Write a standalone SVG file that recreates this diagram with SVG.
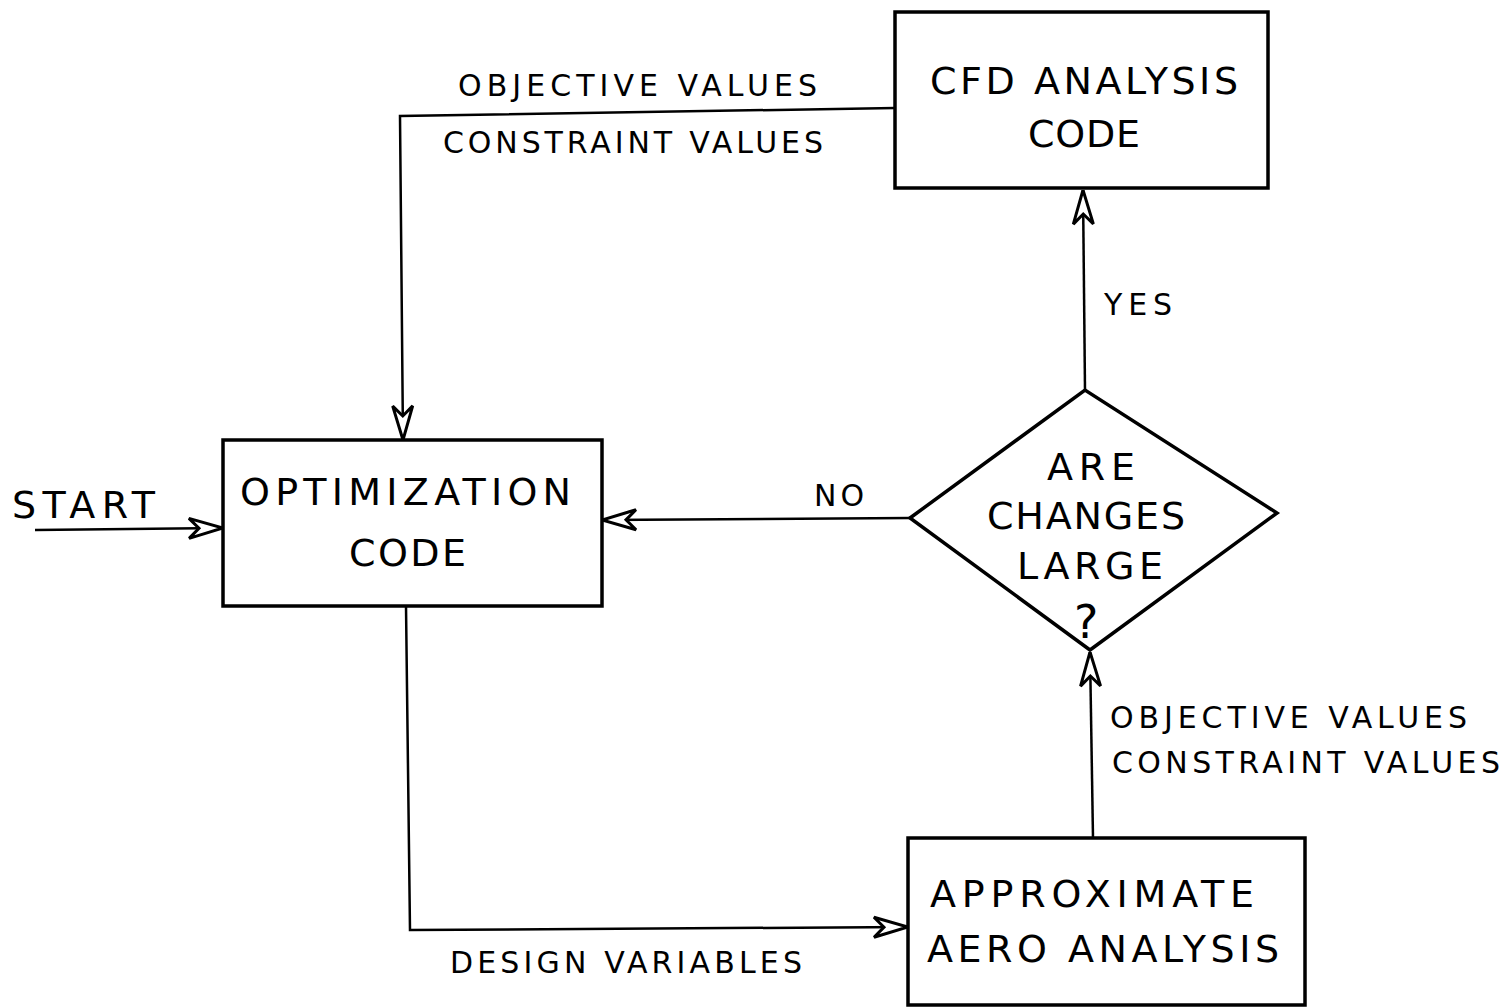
<svg xmlns="http://www.w3.org/2000/svg" width="1506" height="1008" viewBox="0 0 1506 1008">
<style>
.box{fill:none;stroke:#000;stroke-width:3.5}
.ln{fill:none;stroke:#000;stroke-width:2.5}
.t{font-family:"DejaVu Sans","Liberation Sans",sans-serif;fill:#000}
.big{font-size:38px}
.sm{font-size:30px}
</style>
<defs>
<marker id="ah" viewBox="0 0 40 24" refX="40" refY="12" markerWidth="40" markerHeight="24" markerUnits="userSpaceOnUse" orient="auto">
<path d="M40 12 L6 2 L16 12 L6 22 Z" fill="#fff" stroke="#000" stroke-width="3" stroke-linejoin="miter"/>
</marker>
</defs>
<rect width="1506" height="1008" fill="#fff"/>
<g id="connectors">
<polyline class="ln" points="895,108 400,116 403,440" marker-end="url(#ah)"/>
<line class="ln" x1="35" y1="530" x2="223" y2="528" marker-end="url(#ah)"/>
<line class="ln" x1="910" y1="518" x2="602" y2="520" marker-end="url(#ah)"/>
<line class="ln" x1="1085" y1="390" x2="1083" y2="190" marker-end="url(#ah)"/>
<line class="ln" x1="1093" y1="838" x2="1090" y2="652" marker-end="url(#ah)"/>
<polyline class="ln" points="406,606 410,930 908,927" marker-end="url(#ah)"/>
<text class="t sm" x="458" y="96" textLength="359" lengthAdjust="spacing">OBJECTIVE VALUES</text>
<text class="t sm" x="443" y="153" textLength="380" lengthAdjust="spacing">CONSTRAINT VALUES</text>
<text class="t sm" x="1104" y="315" textLength="68" lengthAdjust="spacing">YES</text>
<text class="t sm" x="814" y="506" textLength="50" lengthAdjust="spacing">NO</text>
<text class="t big" x="12" y="518" textLength="143" lengthAdjust="spacing">START</text>
<text class="t sm" x="1110" y="728" textLength="357" lengthAdjust="spacing">OBJECTIVE VALUES</text>
<text class="t sm" x="1112" y="773" textLength="388" lengthAdjust="spacing">CONSTRAINT VALUES</text>
<text class="t sm" x="450" y="973" textLength="352" lengthAdjust="spacing">DESIGN VARIABLES</text>
</g>
<g id="cfd">
<rect class="box" x="895" y="12" width="373" height="176"/>
<text class="t big" x="930" y="94" textLength="308" lengthAdjust="spacing">CFD ANALYSIS</text>
<text class="t big" x="1028" y="147" textLength="112" lengthAdjust="spacing">CODE</text>
</g>
<g id="optimization">
<rect class="box" x="223" y="440" width="379" height="166"/>
<text class="t big" x="240" y="505" textLength="331" lengthAdjust="spacing">OPTIMIZATION</text>
<text class="t big" x="349" y="566" textLength="117" lengthAdjust="spacing">CODE</text>
</g>
<g id="decision">
<polygon class="box" points="910,518 1085,390 1277,513 1090,650"/>
<text class="t big" x="1047" y="480" textLength="88" lengthAdjust="spacing">ARE</text>
<text class="t big" x="987" y="529" textLength="198" lengthAdjust="spacing">CHANGES</text>
<text class="t big" x="1017" y="579" textLength="146" lengthAdjust="spacing">LARGE</text>
<text class="t" style="font-size:46px" x="1074" y="638">?</text>
</g>
<g id="approx">
<rect class="box" x="908" y="838" width="397" height="167"/>
<text class="t big" x="930" y="907" textLength="324" lengthAdjust="spacing">APPROXIMATE</text>
<text class="t big" x="927" y="962" textLength="352" lengthAdjust="spacing">AERO ANALYSIS</text>
</g>
</svg>
